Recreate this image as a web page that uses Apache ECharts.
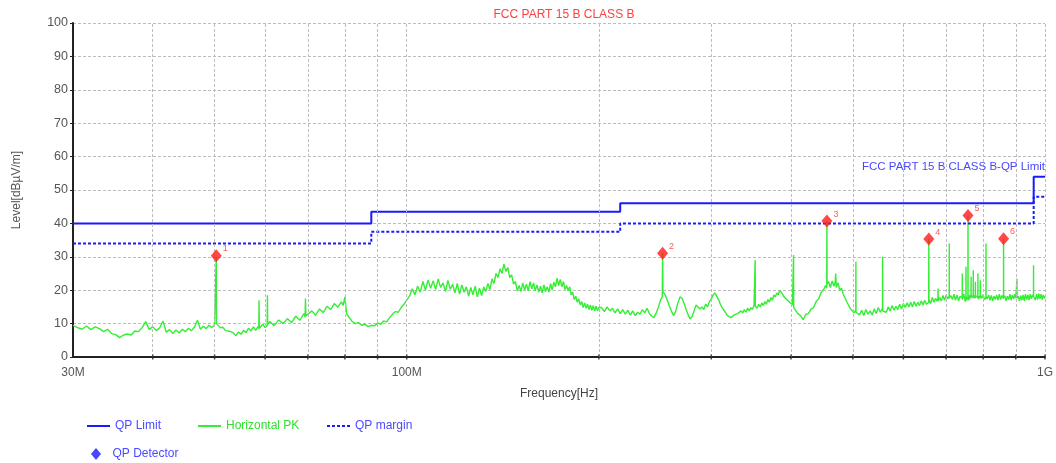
<!DOCTYPE html>
<html><head><meta charset="utf-8">
<script src="https://cdn.jsdelivr.net/npm/echarts@6/dist/echarts.min.js"></script>
<style>html,body{margin:0;padding:0;background:#fff}#c{width:1056px;height:463px}</style>
</head><body><div id="c"></div>
<script>
// Frequencies in MHz, levels in dBuV/m
const gridFreqs = [40, 50, 60, 70, 80, 90, 100, 200, 300, 400, 500, 600, 700, 800, 900, 1000];
const yTicks = [0, 10, 20, 30, 40, 50, 60, 70, 80, 90, 100];

const limitFreq  = [30, 88, 88, 216, 216, 960, 960, 1000];
const limitLevel = [40, 40, 43.5, 43.5, 46, 46, 54, 54];
const marginLevel = [34, 34, 37.5, 37.5, 40, 40, 48, 48];

const detFreq  = [50.3, 251.7, 455.3, 657.6, 757.5, 861.2];
const detLevel = [30.3, 31.1, 40.7, 35.3, 42.4, 35.4];
const detLabel = ['1', '2', '3', '4', '5', '6'];

// Horizontal PK trace, [MHz, dBuV/m]
const pkA = [[30,9.5],[30.5,8.8],[31,8.3],[31.5,9.3],[32,8.2],[32.5,9.0],[33,8.5],[33.5,7.6],[34,8.3],[34.5,7.0],
[35,6.7],[35.5,5.8],[36,6.6],[36.5,6.9],[37,6.6],[37.5,7.8],[38,7.6],[38.5,8.8],[39,10.6],[39.5,8.2],
[40,9.1],[40.5,7.9],[41,8.7],[41.5,10.8],[42,7.4],[42.5,8.2],[43,7.0],[43.5,8.1],[44,7.2],[44.5,8.3],
[45,7.6],[45.5,8.6],[46,7.9],[46.5,9.0],[47,11.0],[47.5,8.3],[48,9.2],[48.5,8.5],[49,9.5],[49.5,8.8],
[50,9.7],[50.25,9.5],[50.3,30.0],[50.35,10.0],[50.5,9.8],[51,8.8],[51.5,8.9],[52,7.9],[52.5,7.8],[53,7.6],
[53.5,7.2],[54,6.4],[54.5,7.5],[55,6.8],[55.5,8.0],[56,7.3],[56.5,8.6],[57,7.8],[57.5,9.0],[58,8.0],
[58.5,9.2],[58.65,8.5],[58.7,17.0],[58.75,8.6],[59,8.5],[59.5,9.8],[60,8.8],[60.45,9.4],[60.5,18.5],[60.55,9.8]];
const pkB = [[61,10.6],[62,9.4],[63,11.1],[64,10.0],[65,11.5],[66,10.3],[67,12.2],[68,11.0],[69,13.0],[69.3,12.0],
[69.4,17.5],[69.5,12.3],[70,12.2],[71,13.8],[72,12.5],[73,14.4],[74,13.3],[75,15.2],[76,14.2],[77,16.0],
[78,14.9],[79,16.5],[79.5,15.4],[80,18.0],[80.5,13.0],[81,12.2],[82,10.8],[83,10.0],[84,10.3],[85,9.5],
[86,9.8],[87,9.1],[88,9.5],[89,9.3],[90,10.2],[91,9.8],[92,10.8],[93,10.5],[94,11.8],[95,12.8],
[96,13.6],[97,13.4],[98,14.8],[99,15.8],[100,17.0]];
const pkC = [[101,18.2],[102,20.4],[103,18.6],[104,21.2],[105,19.4],[106,22.6],[107,20.0],[108,23.1],[109,20.6],[110,22.8],
[111,20.2],[112,23.4],[113,20.8],[114,22.2],[115,19.6],[116,22.9],[117,20.3],[118,21.8],[119,19.2],[120,22.0],
[121,18.8],[122,21.6],[123,19.4],[124,21.0],[125,18.2],[126,20.8],[127,18.6],[128,21.2],[129,18.0],[130,20.6],
[131,18.4],[132,21.0],[133,19.6],[134,22.0],[135,20.2],[136,23.4],[137,22.0],[138,25.0],[139,23.8],[140,26.4],
[141,25.0],[142,27.8],[143,25.6],[144,26.8],[145,23.8],[146,24.6],[147,21.8],[148,22.6],[149,19.8],[150,21.4],
[151,19.6],[152,22.2],[153,20.0],[154,21.8],[155,19.8],[156,22.6],[157,20.4],[158,22.2],[159,19.8],[160,21.6],
[161,19.4],[162,21.2],[163,19.2],[164,21.6],[165,19.6],[166,21.0],[167,19.4],[168,22.0],[169,20.0],[170,22.4],
[171,21.0],[172,23.6],[173,21.4],[174,23.2],[175,21.0],[176,22.6],[177,20.2],[178,21.4],[179,19.8],[180,21.0],
[181,18.6],[182,19.4],[183,17.2],[184,18.2],[185,16.4],[186,17.4],[187,15.6],[188,16.6],[189,14.8],[190,16.2],
[191,14.6],[192,15.8],[193,14.2],[194,15.6],[195,14.0],[196,15.4],[197,13.8],[198,15.2],[199,13.8],[200,14.8]];
const pkD = [[202,14.8],[204,13.6],[206,15.0],[208,13.8],[210,14.6],[212,13.2],[214,14.4],[216,13.0],[218,14.2],[220,12.8],
[222,14.0],[224,12.6],[226,13.8],[228,12.4],[230,13.4],[232,12.8],[234,14.2],[236,13.2],[238,14.6],[240,13.0],
[242,12.2],[244,11.8],[246,13.2],[248,15.0],[250,17.2],[251.4,18.0],[251.7,31.1],[252,19.6],[253,19.2],[254,18.6],
[256,17.0],[258,15.2],[260,13.6],[262,12.4],[264,13.8],[266,16.2],[268,18.0],[270,17.6],[272,16.0],[274,14.2],
[276,12.6],[278,11.4],[280,12.2],[282,13.8],[284,15.6],[286,16.0],[288,14.4],[290,15.0],[292,14.2],[294,15.8],
[296,15.0],[298,16.6],[300,17.4],[302,18.6],[304,19.2],[306,18.8],[308,17.2],[310,15.8],[312,14.8],[314,14.0],
[316,13.2],[318,12.4],[320,12.8],[322,11.8],[324,11.6],[326,12.6],[328,12.2],[330,13.0],[332,12.6],[334,13.8],
[336,13.2],[338,14.2],[340,13.4],[342,14.6],[344,13.8],[346,14.8],[348,14.2],[350,15.4],[351.3,15.0],[351.5,29.0],
[351.7,15.2],[354,14.6],[356,15.8],[358,15.0],[360,16.2],[362,15.4],[364,16.6],[366,15.8],[368,17.2],[370,16.4],
[372,17.8],[374,17.0],[376,18.6],[378,18.0],[380,19.2],[382,18.6],[384,20.0],[386,19.4],[388,18.8],[390,18.0],
[392,18.4],[394,17.2],[396,17.6],[398,16.4],[400,16.6],[402,15.6],[403.5,15.2],[403.7,30.5],[403.9,14.8]];
const pkE = [[406,14.6],[410,13.0],[414,12.4],[418,11.2],[422,12.8],[426,13.0],[430,14.4],[434,14.8],[438,16.6],[442,17.4],
[446,19.4],[450,20.2],[453,21.4],[455,20.6],[455.3,40.7],[455.6,21.8],[458,22.6],[461,20.8],[464,22.8],[467,21.2],
[469,22.4],[470,25.0],[471,20.8],[474,22.2],[477,20.0],[480,20.6],[483,18.8],[486,18.4],[489,16.6],[492,16.2],
[495,14.6],[498,14.8],[502,13.2],[505.3,14.0],[505.5,28.5],[505.7,13.4],[508,13.8],[512,12.6],[516,14.0],[520,12.4],
[524,14.2],[528,12.8],[532,13.8],[536,12.6],[540,14.4],[544,13.0],[548,14.8],[552,13.4],[556.4,14.6],[556.6,30.0],
[556.8,13.8],[560,14.2],[564,13.4],[568,15.0],[572,13.8],[576,15.4],[580,14.0],[584,15.2],[588,14.2],[592,15.8],
[596,14.4],[600,16.0],[604,14.8],[608,16.2],[612,15.0],[616,16.4],[620,15.0],[624,16.6],[628,15.2],[632,16.4],
[636,15.4],[640,16.8],[644,15.6],[648,17.0],[652,15.8],[657.3,16.4],[657.6,35.3],[657.9,17.2],[662,16.0],[666,17.8],
[670,16.4],[674,17.6],[677,16.8],[679.5,17.4],[680,20.5],[680.5,16.8],[684,17.8],[688,16.8],[692,18.4],[696,17.0],
[700,18.6],[704,17.4],[707.8,18.2],[708,34.0],[708.2,17.6],[712,18.4],[716,17.2],[720,18.8],[724,17.0],[728,18.6],
[732,16.8],[736,18.2],[741.8,17.6],[742,25.0],[742.2,17.2],[746,18.8],[750,16.6],[751.8,17.6],[752,27.0],[752.2,18.2],
[754,17.0],[757.3,18.0],[757.5,42.4],[757.7,18.5],[760,17.0],[763,18.6],[765.8,17.6],[766,24.0],[766.2,18.4],[770,18.8],
[771.8,17.8],[772,26.0],[772.2,17.6],[776,18.4],[777.8,17.6],[778,22.5],[778.2,18.4],[782,18.8],[784.8,17.8],[785,25.0],
[785.2,17.4],[788,18.2],[791.8,17.6],[792,23.0],[792.2,18.4],[796,17.6],[800,18.6],[804,17.2],[808.1,17.8],[808.3,34.0],
[808.5,18.2],[812,17.4],[816,18.6],[820,17.0],[824,18.4],[828,16.8],[832,18.2],[836,17.2],[840,18.6],[844,17.0],
[848,18.8],[852,17.2],[856,18.4],[861,17.5],[861.2,35.4],[861.4,17.8],[865,18.4],[869,16.8],[873,18.2],[877,17.2],
[881,18.8],[885,17.0],[889,18.6],[893,17.4],[897,18.8],[900,17.6],[903.6,18.0],[903.8,23.5],[904,17.6],[908,18.2],
[912,16.8],[916,18.4],[920,17.0],[924,18.6],[928,16.8],[932,18.8],[936,17.2],[940,18.6],[944,17.0],[948,18.8],
[952,17.4],[956,18.6],[959.3,18.0],[959.5,27.5],[959.7,18.2],[962,18.6],[966,17.0],[970,18.8],[974,17.2],[978,19.0],
[982,17.4],[986,18.8],[990,17.2],[994,18.6],[998,17.6],[1000,18.2]];

const FONT = 'Liberation Sans';
const pkData = pkA.concat(pkB, pkC, pkD, pkE);
const limitData = limitFreq.map((f, i) => [f, limitLevel[i]]);
const marginData = limitFreq.map((f, i) => [f, marginLevel[i]]);
const detData = detFreq.map((f, i) => ({ value: [f, detLevel[i]], label: { formatter: detLabel[i] } }));

const solidIcon = 'path://M0,0H23V2H0Z';
const dashIcon = 'path://M0,0H3V2H0Z M5,0H8V2H5Z M10,0H13V2H10Z M15,0H18V2H15Z M20,0H23V2H20Z';
const diamondIcon = 'path://M5,0L10,6L5,12L0,6Z';

function legendAt(left, top, item, h) {
  return { left: left, top: top, padding: 0, itemWidth: 23, itemHeight: h, itemGap: 0, selectedMode: false,
    symbolKeepAspect: true, itemStyle: { borderWidth: 0 },
    data: [item], textStyle: { fontSize: 12, fontFamily: FONT } };
}

const chart = echarts.init(document.getElementById('c'), null, { renderer: 'canvas' });
chart.setOption({
  animation: false,
  backgroundColor: '#fff',
  textStyle: { fontFamily: FONT },
  title: [
    { text: 'FCC PART 15 B CLASS B', left: 559, textAlign: 'center', top: 4,
      textStyle: { color: '#ff4040', fontSize: 12, fontWeight: 'normal', fontFamily: FONT } },
    { text: 'FCC PART 15 B CLASS B-QP Limit', right: 6, top: 156,
      textStyle: { color: '#4848ff', fontSize: 11.5, fontWeight: 'normal', fontFamily: FONT } }
  ],
  grid: { left: 73, right: 11, top: 23, bottom: 106, containLabel: false },
  legend: [
    legendAt(87, 420, { name: 'QP Limit', icon: solidIcon, textStyle: { color: '#4a4aff' } }, 12),
    legendAt(198, 420, { name: 'Horizontal PK', icon: solidIcon, textStyle: { color: '#2fe02f' } }, 12),
    legendAt(327, 420, { name: 'QP margin', icon: dashIcon, textStyle: { color: '#4a4aff' } }, 12),
    legendAt(91, 448, { name: 'QP Detector', icon: diamondIcon, itemStyle: { color: '#1a1aff', borderWidth: 0 }, textStyle: { color: '#4a4aff' } }, 12)
  ],
  xAxis: {
    type: 'log', logBase: 10, min: 30, max: 1000,
    name: 'Frequency[Hz]', nameLocation: 'middle', nameGap: 31,
    nameTextStyle: { color: '#444', fontSize: 12, fontFamily: FONT },
    axisLine: { lineStyle: { color: '#222', width: 2 } },
    axisTick: { show: false },
    splitLine: { show: false },
    minorTick: { show: false },
    axisLabel: {
      color: '#555', fontSize: 12, margin: 10, fontFamily: FONT,
      showMinLabel: true, showMaxLabel: true,
      formatter: function (v) {
        const m = Math.round(v);
        if (m === 30) return '30M';
        if (m === 100) return '100M';
        if (m === 1000) return '1G';
        return '';
      }
    }
  },
  yAxis: {
    type: 'value', min: 0, max: 100, interval: 10,
    name: 'Level[dBµV/m]', nameLocation: 'middle', nameGap: 50, nameRotate: 90,
    nameTextStyle: { color: '#555', fontSize: 12, fontFamily: FONT },
    axisLine: { show: true, lineStyle: { color: '#222', width: 2 } },
    axisTick: { show: true, length: 3, lineStyle: { color: '#222' } },
    axisLabel: { color: '#555', fontSize: 12.5, margin: 5, fontFamily: FONT,
      formatter: v => (yTicks.indexOf(v) >= 0 ? String(v) : '') },
    splitLine: { show: true, lineStyle: { color: '#bdbdbd', type: [3, 2], width: 1 } }
  },
  series: [
    { name: 'grid', type: 'line', data: [], silent: true, z: 1,
      markLine: { silent: true, symbol: 'none', animation: false, label: { show: false },
        lineStyle: { color: '#bdbdbd', type: [3, 2], width: 1 },
        emphasis: { disabled: true },
        data: gridFreqs.map(f => ({ xAxis: f })) } },
    { name: 'xticks', type: 'scatter', silent: true, clip: false, z: 5,
      symbol: 'rect', symbolSize: [1.5, 5], itemStyle: { color: '#222' },
      data: gridFreqs.map(f => [f, 0]) },
    { name: 'Horizontal PK', type: 'line', data: pkData, symbol: 'none', z: 2,
      lineStyle: { color: '#33ee33', width: 1.4 }, itemStyle: { color: '#33ee33' } },
    { name: 'QP Limit', type: 'line', data: limitData, symbol: 'none', z: 3,
      lineStyle: { color: '#1a1aff', width: 2 }, itemStyle: { color: '#1a1aff' } },
    { name: 'QP margin', type: 'line', data: marginData, symbol: 'none', z: 3,
      lineStyle: { color: '#1a1aff', width: 2, type: [3, 2] }, itemStyle: { color: '#1a1aff' } },
    { name: 'QP Detector', type: 'scatter', data: detData, symbol: 'diamond', symbolSize: [11, 13], z: 6,
      itemStyle: { color: '#ff1a1a' },
      label: { show: true, position: 'right', distance: 1, offset: [0, -7], color: '#ff3030', fontSize: 9, fontFamily: FONT } }
  ]
});
</script></body></html>
